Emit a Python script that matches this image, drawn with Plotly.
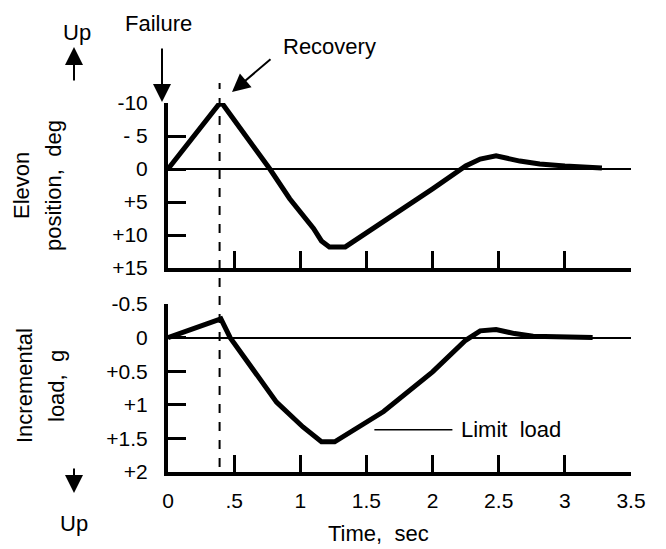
import plotly.graph_objects as go

# ---- data ----
elevon_time = [0, 0.40, 0.77, 0.92, 1.10, 1.16, 1.22, 1.34, 2.00, 2.25, 2.36, 2.48, 2.66, 2.81, 3.00, 3.28]
elevon_deg = [0, -10.2, 0, 4.5, 9.0, 10.9, 11.8, 11.8, 3.0, -0.45, -1.5, -2.0, -1.2, -0.75, -0.45, -0.15]

load_time = [0, 0.40, 0.47, 0.82, 1.02, 1.16, 1.26, 1.63, 2.00, 2.25, 2.36, 2.48, 2.62, 2.76, 3.21]
load_g = [0, -0.28, 0, 0.96, 1.33, 1.55, 1.55, 1.10, 0.51, 0.04, -0.10, -0.12, -0.06, -0.02, 0]

recovery_time = 0.39
limit_line_time = [1.56, 2.15]
limit_load_g = 1.37

elevon_ticks = [-10, -5, 0, 5, 10, 15]
elevon_ticktext = ["-10", "- 5", "0", "+5", "+10", "+15"]
load_ticks = [-0.5, 0, 0.5, 1, 1.5, 2]
load_ticktext = ["-0.5", "0", "+0.5", "+1", "+1.5", "+2"]
time_ticks = [0, 0.5, 1, 1.5, 2, 2.5, 3, 3.5]
time_ticktext = ["0", ".5", "1", "1.5", "2", "2.5", "3", "3.5"]

W, H = 666, 549
FONT = "Liberation Sans, Arial, Helvetica, sans-serif"
FS = 21


def px(x):
    return x / W


def py(y):
    return 1 - y / H


fig = go.Figure()
fig.add_trace(go.Scatter(x=elevon_time, y=elevon_deg, mode="lines",
                         line=dict(color="black", width=5), xaxis="x", yaxis="y",
                         hoverinfo="skip"))
fig.add_trace(go.Scatter(x=load_time, y=load_g, mode="lines",
                         line=dict(color="black", width=5), xaxis="x2", yaxis="y2",
                         hoverinfo="skip"))

xdom = [px(168), px(631)]
axis_common = dict(showline=True, linecolor="black", linewidth=4, showgrid=False,
                   ticks="inside", tickcolor="black", tickwidth=2.5, automargin=False,
                   tickfont=dict(family=FONT, size=FS, color="black"))

fig.update_layout(
    width=W, height=H,
    margin=dict(l=0, r=0, t=0, b=0),
    paper_bgcolor="white", plot_bgcolor="white",
    showlegend=False,
    font=dict(family=FONT, size=FS, color="black"),
    xaxis=dict(domain=xdom, range=[0, 3.5], anchor="y", tickvals=time_ticks[1:],
               showticklabels=False, ticklen=17, zeroline=False, **axis_common),
    yaxis=dict(domain=[py(268), py(103)], range=[15, -10], anchor="x",
               tickvals=elevon_ticks, ticktext=elevon_ticktext, ticklen=18,
               ticklabelstandoff=12,
               zeroline=True, zerolinecolor="black", zerolinewidth=1.5, **axis_common),
    xaxis2=dict(domain=xdom, range=[0, 3.5], anchor="y2", tickvals=time_ticks,
                ticktext=time_ticktext, ticklen=17, ticklabelstandoff=7,
                zeroline=False, **axis_common),
    yaxis2=dict(domain=[py(472), py(304)], range=[2, -0.5], anchor="x2",
                tickvals=load_ticks, ticktext=load_ticktext, ticklen=18,
                ticklabelstandoff=12,
                zeroline=True, zerolinecolor="black", zerolinewidth=1.5, **axis_common),
)

# dashed recovery line spanning both panels
fig.add_shape(type="line", xref="x", yref="paper", x0=recovery_time, x1=recovery_time,
              y0=py(467), y1=py(83), line=dict(color="black", width=2, dash="dash"))

# limit load marker line
fig.add_shape(type="line", xref="x2", yref="y2", x0=limit_line_time[0], x1=limit_line_time[1],
              y0=limit_load_g, y1=limit_load_g, line=dict(color="black", width=1.5))


def text(x, y, s, angle=0, xanchor="center", size=FS + 1):
    fig.add_annotation(x=px(x), y=py(y), xref="paper", yref="paper", text=s,
                       showarrow=False, textangle=angle, xanchor=xanchor, yanchor="middle",
                       font=dict(family=FONT, size=size, color="black"))


def arrow(hx, hy, tx, ty):
    fig.add_annotation(x=px(hx), y=py(hy), xref="paper", yref="paper", text="",
                       showarrow=True, ax=tx - hx, ay=ty - hy, arrowhead=2,
                       arrowsize=1.8, arrowwidth=2, arrowcolor="black")


text(158, 23, "Failure")
text(281, 47, "Recovery", xanchor="left")
text(77, 32, "Up")
text(74, 523, "Up")
text(378, 533, "Time,  sec")
fig.add_annotation(x=limit_line_time[1] + 0.05, y=limit_load_g, xref="x2", yref="y2",
                   text="Limit  load", showarrow=False, xanchor="left", yanchor="middle",
                   font=dict(family=FONT, size=FS + 1, color="black"))
text(22, 186, "Elevon", angle=-90)
text(54, 186, "position,  deg", angle=-90)
text(24, 386, "Incremental", angle=-90)
text(56, 386, "load,  g", angle=-90)

arrow(162, 102, 162, 47)
arrow(232, 92, 272, 58)
arrow(74, 47, 74, 82)
arrow(74, 493, 74, 467)

fig.write_html("out.html", config={"displayModeBar": False},
               post_script="document.body.style.margin='0';document.body.style.padding='0';")
